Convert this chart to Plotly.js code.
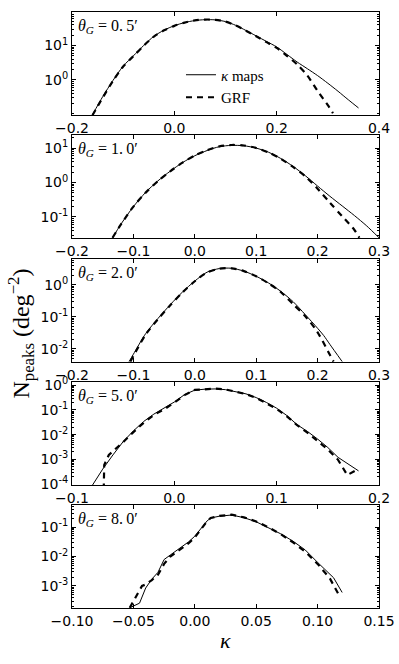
<!DOCTYPE html>
<html>
<head>
<meta charset="utf-8">
<script src="https://cdn.plot.ly/plotly-3.0.1.min.js"></script>
<style>
html,body{margin:0;padding:0;background:#fff;}
#chart{width:399px;height:664px;}
</style>
</head>
<body>
<div id="chart"></div>
<script>
// ---- data ----
const thetaLabels = ['0.\u20095', '1.\u20090', '2.\u20090', '5.\u20090', '8.\u20090'];
const seriesNames = ['<i>κ</i> maps', 'GRF'];
const xTitle = '<i>κ</i>';
const yTitle = 'N<sub>peaks</sub> (deg<sup>−2</sup>)';

// panel 1: theta_G = 0.5'
const kappa1 = [-0.16,-0.14,-0.12,-0.10,-0.08,-0.06,-0.04,-0.02,0.00,0.02,0.04,0.06,0.08,0.10,0.12,0.14,0.16,0.18,0.20,0.22,0.24,0.26,0.28,0.30,0.32,0.34,0.36];
const maps1  = [0.095,0.32,0.95,2.5,5.0,10,18.6,28.2,38,46.8,53.7,56.9,56.2,50.1,38.9,27.5,19.1,13.2,9.1,5.5,3.3,2.1,1.32,0.79,0.46,0.26,0.15];
const grfKappa1 = [-0.16,-0.14,-0.12,-0.10,-0.08,-0.06,-0.04,-0.02,0.00,0.02,0.04,0.06,0.08,0.10,0.12,0.14,0.16,0.18,0.20,0.22,0.24,0.26,0.28,0.30,0.31];
const grf1   = [0.092,0.30,0.92,2.45,4.9,9.8,18.2,27.8,37.6,46.8,54.5,57.5,56.5,50,38.5,27,18.6,12.6,8.5,5.0,2.8,1.32,0.47,0.18,0.105];

// panel 2: theta_G = 1.0'
const kappa2 = [-0.134,-0.12,-0.10,-0.08,-0.06,-0.04,-0.02,0.00,0.02,0.04,0.06,0.08,0.10,0.12,0.14,0.16,0.18,0.20,0.22,0.24,0.26,0.28,0.30];
const maps2  = [0.025,0.063,0.20,0.52,1.12,2.14,3.8,6.0,8.5,11.0,12.0,11.7,10.0,7.6,5.0,2.95,1.58,0.79,0.40,0.21,0.11,0.055,0.025];
const grfKappa2 = [-0.134,-0.12,-0.10,-0.08,-0.06,-0.04,-0.02,0.00,0.02,0.04,0.06,0.08,0.10,0.12,0.14,0.16,0.18,0.20,0.22,0.24,0.26,0.268];
const grf2   = [0.025,0.062,0.20,0.51,1.10,2.12,3.8,6.1,8.7,11.2,12.3,11.9,10.1,7.5,4.9,2.85,1.51,0.66,0.26,0.105,0.042,0.025];

// panel 3: theta_G = 2.0'
const kappa3 = [-0.107,-0.10,-0.08,-0.06,-0.04,-0.02,0.00,0.02,0.04,0.06,0.08,0.10,0.12,0.14,0.16,0.18,0.20,0.21,0.22,0.24];
const maps3  = [0.0040,0.0068,0.030,0.089,0.24,0.60,1.32,2.5,3.24,3.31,2.69,1.86,1.15,0.63,0.30,0.117,0.044,0.026,0.0138,0.0040];
const grfKappa3 = [-0.105,-0.10,-0.08,-0.06,-0.04,-0.02,0.00,0.02,0.04,0.06,0.08,0.10,0.12,0.14,0.16,0.18,0.20,0.22,0.226];
const grf3   = [0.0040,0.0060,0.028,0.085,0.23,0.58,1.30,2.45,3.2,3.3,2.7,1.85,1.12,0.60,0.25,0.105,0.033,0.0065,0.0040];

// panel 4: theta_G = 5.0'
const kappa4 = [-0.08,-0.07,-0.06,-0.05,-0.04,-0.03,-0.02,-0.01,0.00,0.01,0.02,0.03,0.04,0.05,0.06,0.07,0.08,0.09,0.10,0.11,0.12,0.13,0.14,0.15,0.16,0.17,0.18];
const maps4  = [9.0e-5,4.0e-4,1.5e-3,5.2e-3,0.0141,0.0339,0.0676,0.120,0.209,0.417,0.631,0.692,0.708,0.661,0.562,0.447,0.316,0.200,0.117,0.059,0.0251,0.0135,0.0066,0.0030,0.0012,6.3e-4,3.4e-4];
const grfKappa4 = [-0.069,-0.0685,-0.064,-0.053,-0.05,-0.04,-0.03,-0.02,-0.01,0.00,0.01,0.02,0.03,0.04,0.05,0.06,0.07,0.08,0.09,0.10,0.11,0.12,0.13,0.14,0.15,0.16,0.169,0.178];
const grf4   = [6.0e-5,5.9e-4,1.5e-3,3.8e-3,5.0e-3,0.0126,0.030,0.063,0.105,0.200,0.398,0.646,0.708,0.724,0.676,0.562,0.437,0.309,0.191,0.110,0.055,0.024,0.0120,0.0056,0.0025,9.5e-4,2.3e-4,3.7e-4];

// panel 5: theta_G = 8.0'
const kappa5 = [-0.053,-0.045,-0.040,-0.035,-0.030,-0.025,-0.020,-0.010,-0.005,0.000,0.005,0.010,0.013,0.020,0.030,0.040,0.050,0.060,0.070,0.080,0.090,0.100,0.110,0.113,0.120];
const maps5  = [1.8e-4,2.6e-4,8.5e-4,1.7e-3,2.9e-3,7.9e-3,0.0112,0.0214,0.0316,0.0490,0.091,0.162,0.204,0.234,0.257,0.209,0.151,0.0955,0.0589,0.0331,0.0166,0.0063,0.0024,0.0019,6.0e-4];
const grfKappa5 = [-0.053,-0.047,-0.043,-0.040,-0.035,-0.030,-0.025,-0.020,-0.010,-0.005,0.000,0.005,0.010,0.013,0.020,0.030,0.040,0.050,0.060,0.070,0.080,0.090,0.100,0.110,0.115,0.118];
const grf5   = [1.8e-4,4.9e-4,1.0e-3,1.12e-3,1.58e-3,2.4e-3,5.6e-3,0.0100,0.0191,0.0282,0.0447,0.0851,0.158,0.204,0.240,0.263,0.214,0.155,0.0977,0.0575,0.0302,0.0145,0.0056,0.0018,7.9e-4,4.4e-4];

// axis ticks
const xTickVals1 = [-0.2, 0.0, 0.2, 0.4];
const xTickVals2 = [-0.2, -0.1, 0.0, 0.1, 0.2, 0.3];
const xTickVals3 = [-0.2, -0.1, 0.0, 0.1, 0.2, 0.3];
const xTickVals4 = [-0.1, 0.0, 0.1, 0.2];
const xTickVals5 = [-0.10, -0.05, 0.00, 0.05, 0.10, 0.15];
const yTickVals1 = [1, 10];
const yTickText1 = ['10<sup>0</sup>', '10<sup>1</sup>'];
const yTickVals2 = [0.1, 1, 10];
const yTickText2 = ['10<sup>-1</sup>', '10<sup>0</sup>', '10<sup>1</sup>'];
const yTickVals3 = [0.01, 0.1, 1];
const yTickText3 = ['10<sup>-2</sup>', '10<sup>-1</sup>', '10<sup>0</sup>'];
const yTickVals4 = [1e-4, 1e-3, 1e-2, 1e-1, 1];
const yTickText4 = ['10<sup>-4</sup>', '10<sup>-3</sup>', '10<sup>-2</sup>', '10<sup>-1</sup>', '10<sup>0</sup>'];
const yTickVals5 = [1e-3, 1e-2, 1e-1];
const yTickText5 = ['10<sup>-3</sup>', '10<sup>-2</sup>', '10<sup>-1</sup>'];

// ---- build ----
const panels = [
  {k: kappa1, m: maps1, gk: grfKappa1, g: grf1, xr: [-0.2, 0.4], xt: xTickVals1, xf: '.1f', yr: [-1.03, 1.98], yv: yTickVals1, yt: yTickText1, dom: [0.8272, 1], smooth: true},
  {k: kappa2, m: maps2, gk: grfKappa2, g: grf2, xr: [-0.2, 0.3], xt: xTickVals2, xf: '.1f', yr: [-1.61, 1.38], yv: yTickVals2, yt: yTickText2, dom: [0.6208, 0.7936], smooth: true},
  {k: kappa3, m: maps3, gk: grfKappa3, g: grf3, xr: [-0.2, 0.3], xt: xTickVals3, xf: '.1f', yr: [-2.41, 0.81], yv: yTickVals3, yt: yTickText3, dom: [0.4128, 0.5856], smooth: true},
  {k: kappa4, m: maps4, gk: grfKappa4, g: grf4, xr: [-0.1, 0.2], xt: xTickVals4, xf: '.1f', yr: [-4.04, 0.13], yv: yTickVals4, yt: yTickText4, dom: [0.2064, 0.3792], smooth: false},
  {k: kappa5, m: maps5, gk: grfKappa5, g: grf5, xr: [-0.10, 0.15], xt: xTickVals5, xf: '.2f', yr: [-3.75, -0.25], yv: yTickVals5, yt: yTickText5, dom: [0, 0.1728], smooth: false}
];

const traces = [];
const layout = {
  width: 399, height: 664,
  margin: {l: 72, r: 20, t: 12, b: 56},
  paper_bgcolor: '#fff', plot_bgcolor: '#fff',
  showlegend: true,
  legend: {
    x: 0.355, y: 0.922, xanchor: 'left', yanchor: 'top',
    bgcolor: 'rgba(0,0,0,0)', borderwidth: 0,
    font: {family: 'Liberation Serif', size: 15, color: '#000'},
    itemwidth: 30, tracegroupgap: 0
  },
  annotations: []
};

const axBase = {
  showline: true, linecolor: '#000', linewidth: 1, mirror: 'allticks',
  ticks: 'inside', ticklen: 4, tickwidth: 1, tickcolor: '#000',
  showgrid: false, zeroline: false,
  tickfont: {family: 'DejaVu Sans', size: 14, color: '#000'}
};

panels.forEach((p, i) => {
  const n = i === 0 ? '' : String(i + 1);
  const xa = 'x' + n, ya = 'y' + n;
  const shape = p.smooth ? 'spline' : 'linear';
  traces.push({
    x: p.k, y: p.m, xaxis: xa, yaxis: ya, type: 'scatter', mode: 'lines',
    name: seriesNames[0], showlegend: i === 0, legendrank: 1,
    line: {color: '#000', width: 1, shape: shape, smoothing: 0.8}
  });
  traces.push({
    x: p.gk, y: p.g, xaxis: xa, yaxis: ya, type: 'scatter', mode: 'lines',
    name: seriesNames[1], showlegend: i === 0, legendrank: 2,
    line: {color: '#000', width: 2.2, dash: '6px,5px', shape: shape, smoothing: 0.8}
  });
  layout['xaxis' + n] = Object.assign({}, axBase, {
    anchor: ya, domain: [0, 1], range: p.xr,
    tickmode: 'array', tickvals: p.xt, tickformat: p.xf
  });
  layout['yaxis' + n] = Object.assign({}, axBase, {
    anchor: xa, domain: p.dom, type: 'log', range: p.yr,
    tickmode: 'array', tickvals: p.yv, ticktext: p.yt,
    minor: {ticks: 'inside', ticklen: 2, tickcolor: '#000', dtick: 'D1', showgrid: false}
  });
  layout.annotations.push({
    xref: xa + ' domain', yref: ya + ' domain', x: 0.012, y: 0.975,
    xanchor: 'left', yanchor: 'top', showarrow: false,
    text: '<i>θ</i><sub><i>G</i></sub>\u00a0=\u00a0' + thetaLabels[i] + '′',
    font: {family: 'Liberation Serif', size: 16, color: '#000'}
  });
});

layout.annotations.push({
  xref: 'paper', yref: 'paper', x: -0.165, y: 0.461,
  xanchor: 'center', yanchor: 'middle', textangle: -90, showarrow: false,
  text: yTitle, font: {family: 'Liberation Serif', size: 24, color: '#000'}
});
layout.annotations.push({
  xref: 'paper', yref: 'paper', x: 0.5, y: -0.054,
  xanchor: 'center', yanchor: 'middle', showarrow: false,
  text: xTitle, font: {family: 'Liberation Serif', size: 22, color: '#000'}
});

Plotly.newPlot('chart', traces, layout, {displayModeBar: false, staticPlot: true});
</script>
</body>
</html>
